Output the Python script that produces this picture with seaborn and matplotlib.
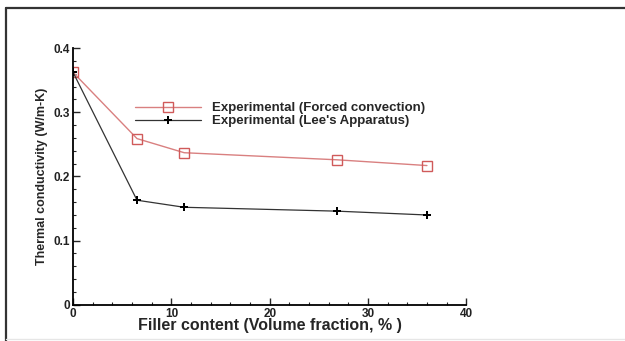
import matplotlib
matplotlib.use("Agg")
import matplotlib.pyplot as plt
import seaborn as sns
import pandas as pd
from matplotlib.ticker import MultipleLocator
from matplotlib.lines import Line2D

# Data
filler = [0, 6.5, 11.3, 26.8, 36.0]
forced_conv = [0.362, 0.259, 0.237, 0.226, 0.217]
lees_app = [0.362, 0.163, 0.152, 0.146, 0.140]
labels = ["Experimental (Forced convection)", "Experimental (Lee's Apparatus)"]
xticks = [0, 10, 20, 30, 40]
yticks = [0, 0.1, 0.2, 0.3, 0.4]
ytick_labels = ["0", "0.1", "0.2", "0.3", "0.4"]

df = pd.DataFrame({"filler": filler, "forced": forced_conv, "lee": lees_app})

sns.set_style("ticks")
plt.rcParams['font.family'] = ['Liberation Sans', 'DejaVu Sans']

fig = plt.figure(figsize=(6.25, 3.41), dpi=100)
ax = fig.add_axes([0.117, 0.106, 0.629, 0.753])

red = "#d98080"
sns.lineplot(data=df, x="filler", y="forced", ax=ax, color=red, lw=1.0,
             marker="s", markersize=7, markerfacecolor="none",
             markeredgecolor="#d05a5a", markeredgewidth=1.0, label=labels[0])
sns.lineplot(data=df, x="filler", y="lee", ax=ax, color="#333333", lw=0.9,
             marker="P", markersize=6, markerfacecolor="black",
             markeredgecolor="black", markeredgewidth=0, label=labels[1])

ax.set_xlim(0, 40)
ax.set_ylim(0, 0.4)
ax.set_xticks(xticks)
ax.set_xticklabels([str(v) for v in xticks])
ax.set_yticks(yticks)
ax.set_yticklabels(ytick_labels)
ax.xaxis.set_minor_locator(MultipleLocator(2))
ax.yaxis.set_minor_locator(MultipleLocator(0.02))
ax.tick_params(which="major", direction="in", length=5, width=1.0,
               labelsize=8.5, pad=2)
ax.tick_params(which="minor", direction="in", length=2.5, width=0.8)
for t in ax.get_xticklabels() + ax.get_yticklabels():
    t.set_fontweight("bold")
    t.set_color("#222222")

for s in ["top", "right"]:
    ax.spines[s].set_visible(False)
for s in ["left", "bottom"]:
    ax.spines[s].set_linewidth(1.3)
    ax.spines[s].set_color("black")

ax.set_xlabel("Filler content (Volume fraction, % )", fontsize=11.5,
              fontweight="bold", labelpad=-1)
ax.set_ylabel("Thermal conductivity (W/m-K)", fontsize=9,
              fontweight="bold", labelpad=4,
              family=['Liberation Sans Narrow', 'Liberation Sans'])

leg = ax.legend(loc="upper left", bbox_to_anchor=(0.158, 0.79), frameon=False,
                fontsize=9.5, handlelength=5.0, handletextpad=0.8,
                labelspacing=0.05, borderaxespad=0, borderpad=0)
for t in leg.get_texts():
    t.set_fontweight("bold")

# Frame around the picture
fig.add_artist(Line2D([0.0096, 1.0], [1 - 8 / 341, 1 - 8 / 341],
                      transform=fig.transFigure, color="#333333", lw=1.6))
fig.add_artist(Line2D([0.0096, 0.0096], [0.0, 1 - 8 / 341],
                      transform=fig.transFigure, color="#333333", lw=1.6))
fig.add_artist(Line2D([0.0096, 1.0], [2 / 341, 2 / 341],
                      transform=fig.transFigure, color="#e6e6e6", lw=1.0))

fig.savefig("out.png", dpi=100)
